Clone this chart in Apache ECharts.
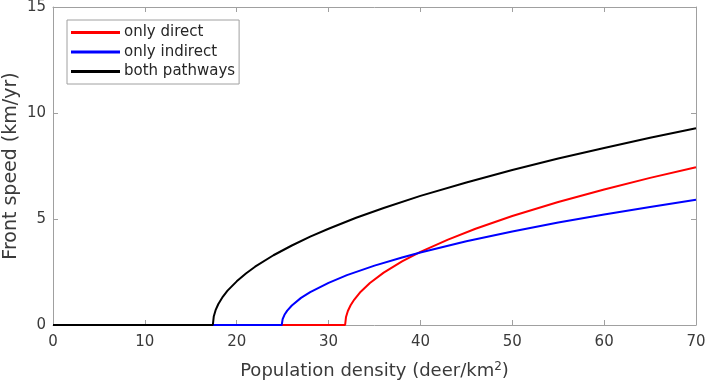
<!DOCTYPE html>
<html>
<head>
<meta charset="utf-8">
<script src="https://cdn.jsdelivr.net/npm/echarts@6/dist/echarts.min.js"></script>
<style>
  html, body { margin: 0; padding: 0; background: #fff; }
  #chart { width: 707px; height: 380px; }
</style>
</head>
<body>
<div id="chart"></div>
<script>
// values (density in deer/km2, speed in km/yr)
const directX = [0, 31.8, 31.9, 32.1, 32.4, 32.8, 33.5, 34.5, 36, 38, 40, 43, 46, 50, 55, 60, 65, 70]
const directY = [0, 0, 0.38, 0.66, 0.93, 1.2, 1.57, 1.98, 2.47, 3.0, 3.45, 4.03, 4.54, 5.14, 5.8, 6.39, 6.94, 7.44]

const indirectX = [0, 24.9, 25, 25.2, 25.5, 26, 27, 28, 30, 32, 35, 38, 40, 45, 50, 55, 60, 65, 70]
const indirectY = [0, 0, 0.28, 0.48, 0.68, 0.92, 1.28, 1.55, 1.99, 2.35, 2.8, 3.18, 3.42, 3.95, 4.41, 4.83, 5.21, 5.57, 5.91]

const bothX = [0, 17.4, 17.5, 17.7, 18, 18.5, 19, 20, 21, 22, 24, 26, 28, 30, 33, 36, 40, 45, 50, 55, 60, 65, 70]
const bothY = [0, 0, 0.4, 0.7, 0.99, 1.34, 1.62, 2.06, 2.43, 2.75, 3.29, 3.75, 4.17, 4.54, 5.06, 5.52, 6.09, 6.72, 7.31, 7.85, 8.35, 8.83, 9.28]

const xTicks = [0, 10, 20, 30, 40, 50, 60, 70]
const yTicks = [0, 5, 10, 15]

const zip = (xs, ys) => xs.map((x, i) => [x, ys[i]])

const frameColor = '#a0a0a0'
const labelColor = '#3a3a3a'
const font = 'DejaVu Sans'

const myChart = echarts.init(document.getElementById('chart'), null, { renderer: 'canvas' })

const baseAxis = {
  type: 'value',
  axisLine: { show: true, onZero: false, lineStyle: { color: frameColor, width: 1 } },
  axisTick: { show: true, inside: true, length: 5, lineStyle: { color: frameColor } },
  splitLine: { show: false },
}

const option = {
  animation: false,
  backgroundColor: '#fff',
  textStyle: { fontFamily: font },
  grid: { left: 53, right: 11, top: 7, bottom: 55, containLabel: false, outerBoundsMode: 'none' },
  legend: {
    orient: 'vertical',
    left: 67,
    top: 20,
    icon: 'rect',
    itemWidth: 49,
    itemHeight: 3,
    itemGap: 4.5,
    padding: [5, 4, 5, 4],
    borderColor: frameColor,
    borderWidth: 1,
    backgroundColor: '#fff',
    textStyle: { fontFamily: font, fontSize: 15, color: '#262626', padding: [0, 0, 0, -1] },
    data: ['only direct', 'only indirect', 'both pathways'],
  },
  xAxis: [
    {
      ...baseAxis,
      min: xTicks[0],
      max: xTicks[xTicks.length - 1],
      interval: 10,
      name: 'Population density (deer/km{sup|2})',
      nameLocation: 'middle',
      nameGap: 36,
      nameTextStyle: {
        fontFamily: font,
        fontSize: 18,
        color: labelColor,
        rich: { sup: { fontSize: 12, verticalAlign: 'top', padding: [0, 0, 9, 0], color: labelColor, fontFamily: font } },
      },
      axisLabel: { fontSize: 15, color: labelColor, margin: 10, fontFamily: font },
    },
    {
      ...baseAxis,
      position: 'top',
      min: xTicks[0],
      max: xTicks[xTicks.length - 1],
      interval: 10,
      axisLabel: { show: false },
    },
  ],
  yAxis: [
    {
      ...baseAxis,
      min: yTicks[0],
      max: yTicks[yTicks.length - 1],
      interval: 5,
      name: 'Front speed (km/yr)',
      nameLocation: 'middle',
      nameGap: 32,
      nameMoveOverlap: false,
      nameTextStyle: { fontFamily: font, fontSize: 19, color: labelColor },
      axisLabel: { fontSize: 15, color: labelColor, margin: 7, fontFamily: font },
    },
    {
      ...baseAxis,
      position: 'right',
      min: yTicks[0],
      max: yTicks[yTicks.length - 1],
      interval: 5,
      axisLabel: { show: false },
    },
  ],
  series: [
    {
      name: 'only direct',
      type: 'line',
      data: zip(directX, directY),
      showSymbol: false,
      color: '#ff0000',
      lineStyle: { width: 2 },
      z: 2,
    },
    {
      name: 'only indirect',
      type: 'line',
      data: zip(indirectX, indirectY),
      showSymbol: false,
      color: '#0000ff',
      lineStyle: { width: 2 },
      z: 3,
    },
    {
      name: 'both pathways',
      type: 'line',
      data: zip(bothX, bothY),
      showSymbol: false,
      color: '#000000',
      lineStyle: { width: 2 },
      z: 4,
    },
  ],
}

myChart.setOption(option)
</script>
</body>
</html>
